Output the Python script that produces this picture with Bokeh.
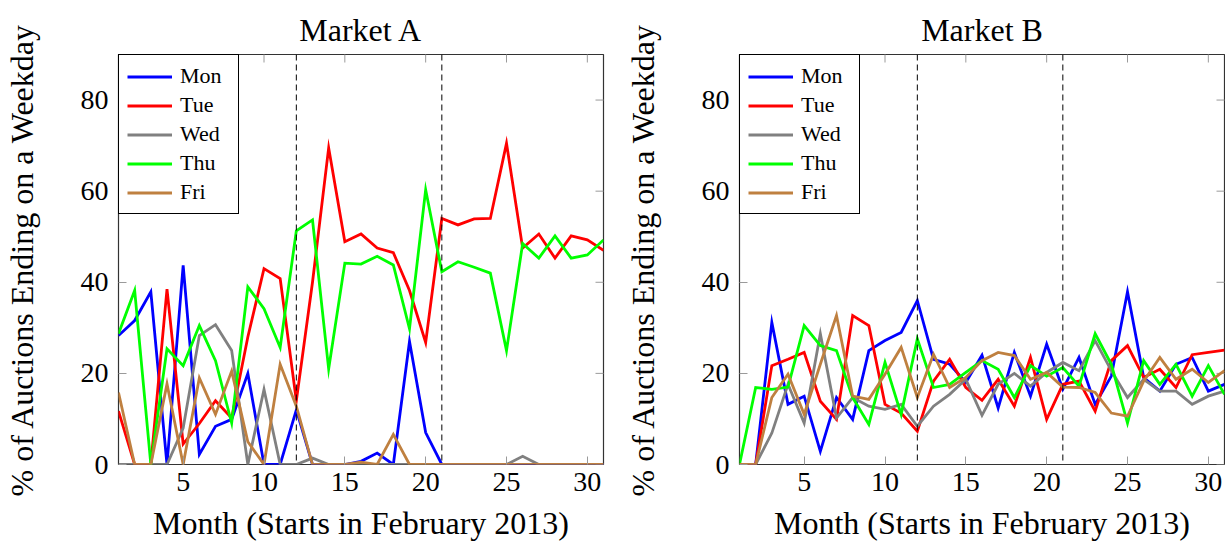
import math
from bokeh.plotting import figure
from bokeh.models import FixedTicker, Span, Range1d
from bokeh.layouts import row
from bokeh.embed import file_html
from bokeh.resources import INLINE

months = list(range(1, 32))
days = ["Mon", "Tue", "Wed", "Thu", "Fri"]
colors = ["#0000ff", "#ff0000", "#808080", "#00ff00", "#bf8040"]
x_ticks = [5, 10, 15, 20, 25, 30]
y_ticks = [0, 20, 40, 60, 80]
x_lo, x_hi = 1, 31
y_lo, y_hi = 0, 90
breaks = [12, 21]

a_mon = [28.3, 31.6, 37.9, 0, 43.7, 2.2, 8.4, 9.9, 20, 0, 0, 12, 0, 0, 0, 0.7,
         2.5, 0, 27, 7, 0, 0, 0, 0, 0, 0, 0, 0, 0, 0, 0]
a_tue = [11.7, 0, 0, 38.5, 4.5, 9, 14, 10.2, 28, 43, 40.8, 14, 40, 69.5, 48.9, 50.6,
         47.5, 46.5, 38.2, 26.8, 54, 52.6, 53.9, 54, 70.5, 47.5, 50.6, 45.3, 50.2, 49.3, 47]
a_wed = [0, 0, 0, 0, 8, 28.3, 30.7, 25, 0, 16.5, 0, 0, 1.4, 0, 0, 0,
         0, 0, 0, 0, 0, 0, 0, 0, 0, 1.8, 0, 0, 0, 0, 0]
a_thu = [28.7, 38.2, 0, 25.4, 21.7, 30.5, 22.8, 9.1, 39, 34.2, 25.7, 51.3, 53.7, 21, 44.2, 44,
         45.7, 43.8, 29.8, 60.3, 42.3, 44.5, 43.3, 42, 25, 48.5, 45.3, 50.2, 45.3, 46, 49.3]
a_fri = [15.8, 0, 0, 17.7, 0, 19, 11, 20.5, 5, 0, 22, 12.8, 0, 0, 0, 0.5,
         0, 6.6, 0, 0, 0, 0, 0, 0, 0, 0, 0, 0, 0, 0, 0]

b_mon = [0, 0, 31.2, 13.2, 15, 2.9, 14.7, 9.9, 25, 27.2, 29, 36, 23.1, 22, 18, 24,
         12.4, 24.6, 15, 26.4, 16.5, 23.5, 13.2, 19.4, 37.9, 19.1, 16.1, 22, 23.5, 16.1, 17.6]
b_tue = [0, 0, 21.7, 23.1, 24.6, 13.9, 9.9, 32.7, 30.5, 13.2, 11.3, 7.3, 18.3, 23.1, 16.9, 14.1,
         18.7, 12.8, 23.5, 9.9, 17.6, 18.3, 11.7, 22.8, 26.1, 19.1, 20.9, 16.9, 24.1, 24.6, 25.1]
b_wed = [0, 0, 6.9, 17.6, 9.1, 28.7, 10.2, 14.7, 12.8, 12.1, 13.2, 8.4, 12.8, 15.4, 18.7, 10.8,
         17.6, 20, 17.2, 20.2, 22.4, 20.6, 27.2, 20.6, 14.7, 18.7, 16.1, 16.1, 13.2, 15, 16.1]
b_thu = [0, 16.9, 16.5, 17, 30.5, 26.1, 25, 14.7, 8.8, 22.4, 11, 27.6, 16.9, 17.6, 20.2, 22.8,
         20.9, 14.7, 21.7, 19.4, 21.3, 17.2, 28.7, 22, 9.1, 22.8, 17.6, 22, 15, 21.7, 15.4]
b_fri = [0, 0, 14.7, 19.8, 11, 22, 32.7, 15, 14.3, 19.8, 25.7, 14.7, 24.2, 16.9, 19.1, 22.8,
         24.6, 23.9, 18.7, 20.2, 17, 16.9, 15.8, 11.3, 10.6, 18.3, 23.5, 18.7, 20.9, 18, 20.6]

FONT = '"Liberation Serif", "DejaVu Serif", serif'
FRAME = "#333333"
TICK = "#9a9a9a"


def make(title, series, border_right):
    p = figure(frame_width=485, frame_height=410,
               min_border_left=117, min_border_right=border_right,
               min_border_top=54, min_border_bottom=82,
               x_range=Range1d(x_lo, x_hi), y_range=Range1d(y_lo, y_hi),
               output_backend="svg", toolbar_location=None, title=title)
    p.title.text_font = FONT
    p.title.text_font_size = "32px"
    p.title.text_font_style = "normal"
    p.title.text_color = "black"
    p.title.align = "center"
    p.title.vertical_align = "top"
    p.title.standoff = 10
    p.grid.visible = False
    p.outline_line_color = FRAME
    p.outline_line_width = 1.2
    p.outline_line_alpha = 1
    p.background_fill_color = "white"
    p.border_fill_color = "white"

    p.xaxis.ticker = FixedTicker(ticks=x_ticks)
    p.yaxis.ticker = FixedTicker(ticks=y_ticks)
    for ax in p.xaxis + p.yaxis:
        ax.major_tick_in = 8
        ax.major_tick_out = 0
        ax.minor_tick_line_color = None
        ax.major_tick_line_color = TICK
        ax.axis_line_color = None
        ax.major_label_text_font = FONT
        ax.major_label_text_font_size = "28px"
        ax.major_label_text_color = "black"
        ax.axis_label_text_font = FONT
        ax.axis_label_text_font_size = "32px"
        ax.axis_label_text_font_style = "normal"
        ax.axis_label_text_color = "black"
    p.xaxis.axis_label = "Month (Starts in February 2013)"
    p.yaxis.axis_label = "% of Auctions Ending on a Weekday"
    p.xaxis.major_label_standoff = 8
    p.yaxis.major_label_standoff = 10
    p.xaxis.axis_label_standoff = 11
    p.yaxis.axis_label_standoff = 38

    # inward ticks on the top and right frame edges
    p.scatter(x_ticks, [y_hi] * len(x_ticks), marker="dash", angle=math.pi / 2,
              size=16, line_color=TICK, line_width=1)
    p.scatter([x_hi] * len(y_ticks), y_ticks, marker="dash", angle=0,
              size=16, line_color=TICK, line_width=1)

    for day, col, vals in zip(days, colors, series):
        p.line(months, vals, line_color=col, line_width=2.8, line_join="miter",
               legend_label=day)

    for b in breaks:
        p.add_layout(Span(location=b, dimension="height", line_color="black",
                          line_width=1, line_dash="6 4"))

    lg = p.legend[0]
    lg.location = "top_left"
    lg.margin = 0
    lg.border_line_color = "black"
    lg.border_line_width = 1
    lg.border_line_alpha = 1
    lg.background_fill_alpha = 1
    lg.label_text_font = FONT
    lg.label_text_font_size = "22px"
    lg.label_text_color = "black"
    lg.glyph_width = 45
    lg.glyph_height = 23
    lg.label_height = 23
    lg.label_width = 50
    lg.label_standoff = 8
    lg.padding = 8
    lg.spacing = 3
    return p


pa = make("Market A", [a_mon, a_tue, a_wed, a_thu, a_fri], 18)
pb = make("Market B", [b_mon, b_tue, b_wed, b_thu, b_fri], 3)

layout = row(pa, pb)
open("out.html", "w").write(file_html(layout, INLINE))
